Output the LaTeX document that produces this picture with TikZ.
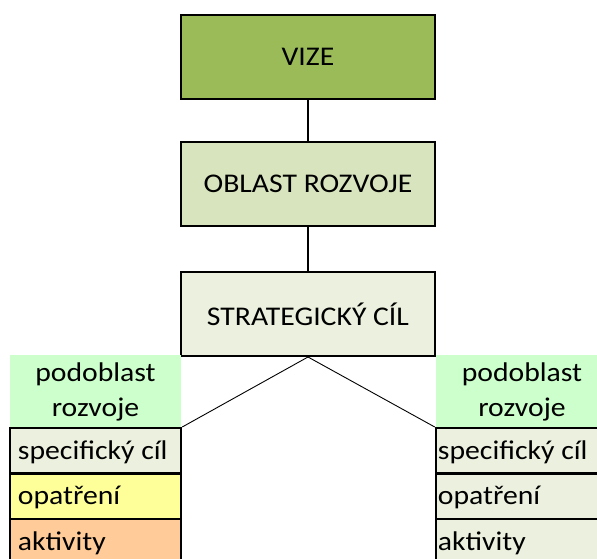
\documentclass[tikz,border=0pt]{standalone}
\usepackage{fontspec}
\setmainfont{Carlito}[FakeStretch=1.1]
\definecolor{vizeC}{HTML}{9BBB59}
\definecolor{oblastC}{HTML}{D7E4BD}
\definecolor{stratC}{HTML}{EBF1DE}
\definecolor{headC}{HTML}{CCFFCC}
\definecolor{opatC}{HTML}{FFFF99}
\definecolor{aktC}{HTML}{FFCC99}
\begin{document}
\begin{tikzpicture}[x=1pt,y=1pt,
  mainbox/.style={draw=black,line width=2pt,minimum width=254pt,minimum height=84pt,inner sep=0pt,
    font=\fontsize{27}{33}\selectfont},
  headbox/.style={fill=headC,minimum width=171pt,minimum height=73pt,inner sep=0pt,align=center,
    font=\fontsize{27}{35}\selectfont},
  lbox/.style={draw=black,line width=2.5pt,minimum width=171pt,minimum height=45.5pt,inner sep=0pt},
  rbox/.style={draw=black,line width=2.5pt,fill=stratC,minimum width=180pt,minimum height=45.5pt,inner sep=0pt},
  boxtext/.style={anchor=west,inner sep=0pt,font=\fontsize{27}{33}\selectfont},
  conn/.style={draw=black,line width=2pt},
  thin/.style={draw=black,line width=0.9pt}]
\clip (0,0) rectangle (597,559);
\fill[white] (0,0) rectangle (597,559);
\node[mainbox,fill=vizeC] (vize) at (308,502) {VIZE};
\node[mainbox,fill=oblastC] (oblast) at (308,375) {OBLAST ROZVOJE};
\node[mainbox,fill=stratC] (strat) at (308,245) {STRATEGICKÝ CÍL};
\draw[conn] (vize.south) -- (oblast.north);
\draw[conn] (oblast.south) -- (strat.north);
\node[headbox] (lhead) at (95.5,167.5) {podoblast\\rozvoje};
\node[headbox,minimum width=172pt] (rhead) at (522,167.5) {podoblast\\rozvoje};
\node[lbox,fill=stratC] (lspec) at (95.5,108) {};
\node[lbox,fill=opatC] (lopat) at (95.5,62.5) {};
\node[lbox,fill=aktC] (lakt) at (95.5,17) {};
\node[rbox] (rspec) at (526,108) {};
\node[rbox] (ropat) at (526,62.5) {};
\node[rbox] (rakt) at (526,17) {};
\node[boxtext] (tlspec) at ([xshift=9pt,yshift=-1pt]lspec.west) {specifický cíl};
\node[boxtext] (tlopat) at ([xshift=9pt,yshift=-1pt]lopat.west) {opatření};
\node[boxtext] (tlakt) at ([xshift=9pt,yshift=-1pt]lakt.west) {aktivity};
\node[boxtext] (trspec) at ([xshift=3pt,yshift=-1pt]rspec.west) {specifický cíl};
\node[boxtext] (tropat) at ([xshift=3pt,yshift=-1pt]ropat.west) {opatření};
\node[boxtext] (trakt) at ([xshift=3pt,yshift=-1pt]rakt.west) {aktivity};
\draw[thin] (strat.south) -- (lspec.north east);
\draw[thin] (strat.south) -- (rspec.north west);
\end{tikzpicture}
\end{document}
